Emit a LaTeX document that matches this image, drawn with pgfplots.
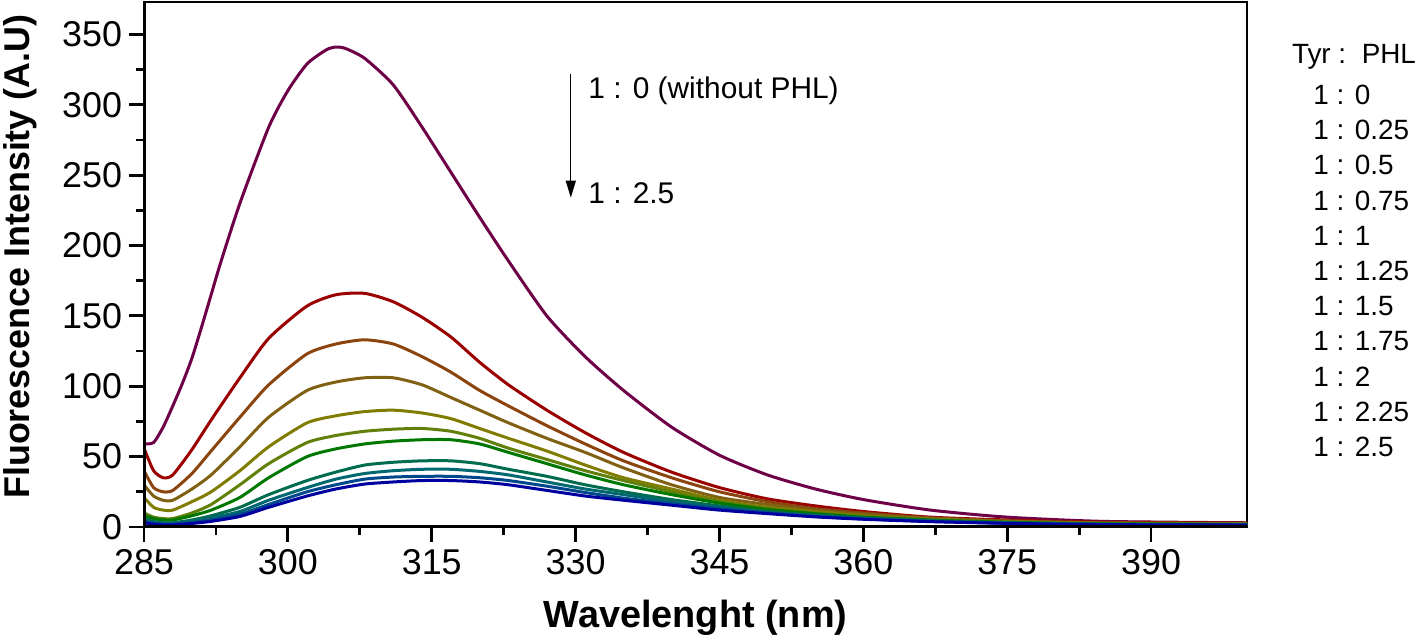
\documentclass[border=0pt]{standalone}
\usepackage{fontspec}
\setmainfont{Liberation Sans}
\usepackage{pgfplots}
\pgfplotsset{compat=1.18}
\usetikzlibrary{arrows.meta}

\definecolor{c0}{RGB}{110,0,72}
\definecolor{c1}{RGB}{155,0,0}
\definecolor{c2}{RGB}{140,68,15}
\definecolor{c3}{RGB}{128,96,18}
\definecolor{c4}{RGB}{128,124,0}
\definecolor{c5}{RGB}{96,128,10}
\definecolor{c6}{RGB}{0,120,0}
\definecolor{c7}{RGB}{0,108,78}
\definecolor{c8}{RGB}{0,104,112}
\definecolor{c9}{RGB}{0,72,140}
\definecolor{c10}{RGB}{0,0,160}

\begin{document}
\begin{tikzpicture}
\path[use as bounding box] (-72bp,-57bp) rectangle (637bp,263.5bp);
\begin{axis}[
  scale only axis, width=551.5bp, height=262.5bp,
  xmin=285, xmax=400, ymin=0, ymax=373,
  xtick={285,300,...,390}, ytick={0,50,...,350},
  minor x tick num=1, minor y tick num=1,
  tick align=outside, tick pos=left,
  major tick length=7.5bp, minor tick length=4bp,
  every tick/.style={line width=1.4bp, black},
  axis line style={line width=0.6bp},
  tick label style={font=\fontsize{18}{20}\selectfont},
  /pgf/number format/assume math mode=true,
  xlabel={Wavelenght (nm)}, ylabel={Fluorescence Intensity (A.U)},
  xlabel style={font=\bfseries\fontsize{19}{21}\selectfont, at={(axis description cs:0.5,-0.1733)}, anchor=center},
  ylabel style={font=\bfseries\fontsize{18}{20}\selectfont, at={(axis description cs:-0.1124,0.515)}, anchor=center},
  every axis plot/.append style={line width=1.5bp, smooth, tension=0.4},
]
% Tyr : PHL = 1 : 0
\addplot[c0] coordinates {(285,59)(286,60)(287,71)(288,86)(289,102)(290,120)(291,142)(292,165)(293,188)(295,230)(298,284)(300,310)(302,329)(304,339)(305,341)(306,340)(308,333)(311,314)(314,284)(317,252)(320,220)(323,189)(327,150)(331,121)(335,97)(340,71)(345,51)(350,37)(355,27)(360,19.5)(367,12)(375,7)(385,4)(400,3)};
% 1 : 0.25
\addplot[c1] coordinates {(285,56)(286,40)(287,35)(288,37)(290,55)(292,76)(295,106)(298,134)(302,157)(305,165)(308,166)(311,160)(314,149)(317,135)(320,117)(323,101)(327,83)(331,67)(335,53)(340,39)(345,28)(350,20)(355,15)(360,11)(367,7)(375,5)(385,3.5)(400,2.8)};
% 1 : 0.5
\addplot[c2] coordinates {(285,40)(286,28)(287,25)(288,26)(290,38)(292,54)(295,78)(298,101)(302,123)(305,130)(308,133)(311,130)(314,121)(317,110)(320,97)(323,86)(327,72)(331,59)(335,47)(340,35)(345,25)(350,18)(355,13)(360,10)(367,6.5)(375,4.5)(385,3)(400,2.5)};
% 1 : 0.75
\addplot[c3] coordinates {(285,30)(286,22)(287,19)(288,19)(290,27)(292,37)(295,57)(298,78)(302,97)(305,103)(308,106)(311,106)(314,101)(317,92)(320,83)(323,74)(327,63)(331,53)(335,42)(340,30)(345,21)(350,16)(355,12)(360,9)(367,6)(375,4)(385,2.8)(400,2.3)};
% 1 : 1
\addplot[c4] coordinates {(285,21)(286,14)(287,12)(288,12)(290,18)(292,25)(295,40)(298,57)(302,74)(305,79)(308,82)(311,83)(314,81)(317,77)(320,70)(323,63)(327,54)(331,44)(335,35)(340,27)(345,19)(350,14)(355,11)(360,8)(367,5.5)(375,3.8)(385,2.6)(400,2.2)};
% 1 : 1.25
\addplot[c5] coordinates {(285,10)(286,7)(287,6)(288,6)(290,10)(292,16)(295,30)(298,45)(302,60)(305,65)(308,68)(311,69.5)(314,70)(317,68)(320,63)(323,56)(327,48)(331,40)(335,33)(340,25)(345,18)(350,13)(355,10)(360,7.5)(367,5)(375,3.5)(385,2.4)(400,2)};
% 1 : 1.5
\addplot[c6] coordinates {(285,8)(286,6)(287,5)(288,5)(290,8)(292,12)(295,21)(298,35)(302,50)(305,55.5)(308,59)(311,61)(314,62)(317,62)(320,59)(323,53)(327,45)(331,37)(335,30)(340,23)(345,17)(350,12.5)(355,9.5)(360,7)(367,5)(375,3.3)(385,2.2)(400,1.9)};
% 1 : 1.75
\addplot[c7] coordinates {(285,6)(286,4)(287,3)(288,3)(290,5)(292,8)(295,14)(298,23)(302,33)(305,39)(308,44)(311,46)(314,47)(317,47)(320,45)(323,41)(327,36)(331,30)(335,25)(340,19.5)(345,15)(350,11)(355,8.5)(360,6.5)(367,4.5)(375,3)(385,2)(400,1.7)};
% 1 : 2
\addplot[c8] coordinates {(285,5)(286,3)(287,2.5)(288,2.5)(290,4)(292,6.5)(295,11)(298,19)(302,28)(305,34)(308,38)(311,40)(314,41)(317,41)(320,39.5)(323,37)(327,32)(331,27)(335,23)(340,18)(345,14)(350,10.5)(355,8)(360,6)(367,4.2)(375,2.8)(385,1.9)(400,1.6)};
% 1 : 2.25
\addplot[c9] coordinates {(285,4)(286,2.5)(287,2)(288,2)(290,3)(292,5)(295,9)(298,16)(302,25)(305,30)(308,34)(311,35.5)(314,36)(317,36)(320,35)(323,33)(327,29)(331,24.5)(335,20.5)(340,16.5)(345,13)(350,10)(355,7.5)(360,5.8)(367,4)(375,2.7)(385,1.8)(400,1.5)};
% 1 : 2.5
\addplot[c10] coordinates {(285,3)(286,2)(287,1.5)(288,1.5)(290,2.5)(292,4)(295,7.5)(298,14)(302,22)(305,27)(308,30.5)(311,32)(314,33)(317,33)(320,32)(323,30)(327,26)(331,22)(335,19)(340,15.5)(345,12)(350,9.5)(355,7.2)(360,5.5)(367,3.8)(375,2.6)(385,1.7)(400,1.4)};

\draw[line width=2bp] (rel axis cs:0,1) -- (rel axis cs:0,0) -- (rel axis cs:1,0);
\draw[line width=0.6bp, -{Triangle[length=8.5bp,width=5bp]}] (axis cs:329.5,322) -- (axis cs:329.5,234);
\node[anchor=west, inner sep=0, font=\fontsize{15}{17}\selectfont] at (axis cs:331.3,310) {1 : 0 (without PHL)};
\node[anchor=west, inner sep=0, font=\fontsize{15}{17}\selectfont] at (axis cs:331.3,237) {1 : 2.5};
\end{axis}
\node[anchor=west, inner sep=0, font=\fontsize{14}{16}\selectfont] at (573.8bp,235bp) {Tyr :\ \ PHL};
\foreach \lab [count=\i from 0] in {0,0.25,0.5,0.75,1,1.25,1.5,1.75,2,2.25,2.5}
  \node[anchor=west, inner sep=0, font=\fontsize{14}{16}\selectfont] at (584.5bp,216bp-\i*17.6bp) {1 : \lab};
\end{tikzpicture}
\end{document}
